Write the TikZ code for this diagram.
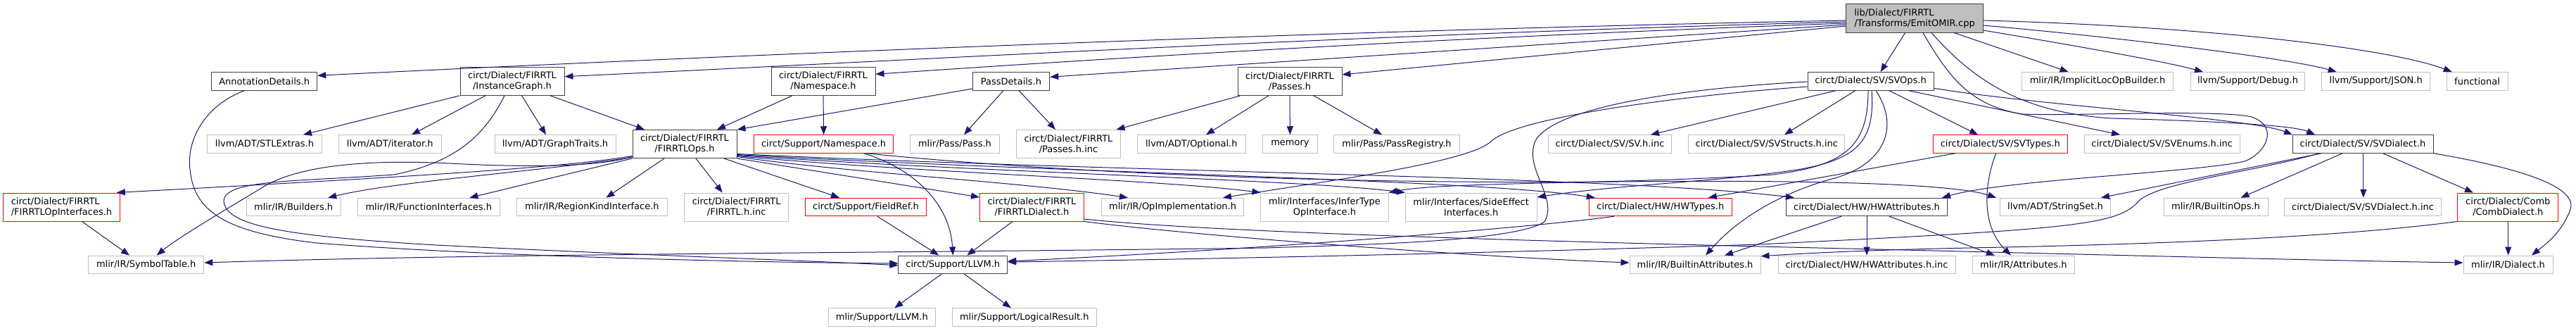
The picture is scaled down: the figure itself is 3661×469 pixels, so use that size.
\documentclass[tikz,border=0pt]{standalone}
\usepackage{fontspec}
\setmainfont{DejaVu Sans}
\usetikzlibrary{arrows.meta}
\definecolor{edgec}{HTML}{191970}
\definecolor{graybd}{HTML}{BFBFBF}
\definecolor{docbd}{HTML}{404040}
\definecolor{mainfill}{HTML}{BFBFBF}
\definecolor{truncbd}{HTML}{FF0000}
\tikzset{
  box/.style={draw, inner sep=0pt, minimum height=25.5pt, font=\fontsize{13}{15}\selectfont, align=center, line width=1pt, text=black},
  dbl/.style={minimum height=40pt},
  docn/.style={draw=docbd},
  undoc/.style={draw=graybd},
  trunc/.style={draw=truncbd},
  mainst/.style={draw=docbd, fill=mainfill},
  edg/.style={draw=edgec, line width=1pt, -{Triangle[length=12pt,width=9pt]}}
}
\begin{document}
\begin{tikzpicture}[x=1pt,y=-1pt]
\useasboundingbox (0,0) rectangle (3661,469);
\fill[white] (0,0) rectangle (3661,469);
% ---- nodes
\node[box,mainst,dbl,align=left,minimum width=194.5pt,minimum height=40.3pt] (main) at (2721,26) {lib/Dialect/FIRRTL\\/Transforms/EmitOMIR.cpp};
% row 1
\node[box,docn,minimum width=150pt] (annot) at (375.7,115.3) {AnnotationDetails.h};
\node[box,docn,dbl,minimum width=148pt] (instgraph) at (728,115.3) {circt/Dialect/FIRRTL\\/InstanceGraph.h};
\node[box,docn,dbl,minimum width=148pt] (nsfirrtl) at (1170,115.3) {circt/Dialect/FIRRTL\\/Namespace.h};
\node[box,docn,minimum width=109.5pt] (passdetails) at (1437,115.3) {PassDetails.h};
\node[box,docn,dbl,minimum width=148pt] (passes) at (1833,115.3) {circt/Dialect/FIRRTL\\/Passes.h};
\node[box,docn,minimum width=179pt] (svops) at (2658.6,115.3) {circt/Dialect/SV/SVOps.h};
\node[box,undoc,minimum width=214.5pt] (implicit) at (2981,115.3) {mlir/IR/ImplicitLocOpBuilder.h};
\node[box,undoc,minimum width=162.5pt] (debug) at (3194.5,115.3) {llvm/Support/Debug.h};
\node[box,undoc,minimum width=154pt] (json) at (3376.7,115.3) {llvm/Support/JSON.h};
\node[box,undoc,minimum width=87pt] (functional) at (3520.5,115.3) {functional};
% row 2
\node[box,undoc,minimum width=163pt] (stlextras) at (376,204.5) {llvm/ADT/STLExtras.h};
\node[box,undoc,minimum width=145.4pt] (iterator) at (554.3,204.5) {llvm/ADT/iterator.h};
\node[box,undoc,minimum width=172pt] (graphtraits) at (789,204.5) {llvm/ADT/GraphTraits.h};
\node[box,docn,dbl,minimum width=148pt] (firrtlops) at (973,204.5) {circt/Dialect/FIRRTL\\/FIRRTLOps.h};
\node[box,trunc,minimum width=198pt] (supns) at (1170.6,204.5) {circt/Support/Namespace.h};
\node[box,undoc,minimum width=126.5pt] (pass) at (1357,204.5) {mlir/Pass/Pass.h};
\node[box,undoc,dbl,minimum width=147.4pt] (passesinc) at (1518.5,204.5) {circt/Dialect/FIRRTL\\/Passes.h.inc};
\node[box,undoc,minimum width=153.8pt] (optional) at (1693.3,204.5) {llvm/ADT/Optional.h};
\node[box,undoc,minimum width=78pt] (memory) at (1833.4,204.5) {memory};
\node[box,undoc,minimum width=178.7pt] (passreg) at (1985,204.5) {mlir/Pass/PassRegistry.h};
\node[box,undoc,minimum width=174.7pt] (svhinc) at (2288,204.5) {circt/Dialect/SV/SV.h.inc};
\node[box,undoc,minimum width=222pt] (svstructs) at (2510.8,204.5) {circt/Dialect/SV/SVStructs.h.inc};
\node[box,trunc,minimum width=191pt] (svtypes) at (2842.7,204.5) {circt/Dialect/SV/SVTypes.h};
\node[box,undoc,minimum width=220.8pt] (svenums) at (3072.7,204.5) {circt/Dialect/SV/SVEnums.h.inc};
\node[box,docn,minimum width=200pt] (svdialect) at (3358,204.5) {circt/Dialect/SV/SVDialect.h};
% row 3
\node[box,trunc,dbl,align=left,minimum width=165.7pt] (opinterfaces) at (87.5,294) {circt/Dialect/FIRRTL\\/FIRRTLOpInterfaces.h};
\node[box,undoc,minimum width=134.4pt] (builders) at (417.2,294) {mlir/IR/Builders.h};
\node[box,undoc,minimum width=201.5pt] (funcif) at (609.3,294) {mlir/IR/FunctionInterfaces.h};
\node[box,undoc,minimum width=213.2pt] (regionkind) at (841.4,294) {mlir/IR/RegionKindInterface.h};
\node[box,undoc,dbl,minimum width=148.3pt] (firrtlinc) at (1046.7,294) {circt/Dialect/FIRRTL\\/FIRRTL.h.inc};
\node[box,trunc,minimum width=172pt] (fieldref) at (1230.5,294) {circt/Support/FieldRef.h};
\node[box,trunc,dbl,minimum width=148pt] (firrtldialect) at (1466.5,294) {circt/Dialect/FIRRTL\\/FIRRTLDialect.h};
\node[box,undoc,minimum width=202.4pt] (opimpl) at (1666.6,294) {mlir/IR/OpImplementation.h};
\node[box,undoc,dbl,minimum width=181.3pt] (infertype) at (1882.5,294) {mlir/Interfaces/InferType\\OpInterface.h};
\node[box,undoc,dbl,minimum width=186.7pt] (sideeffect) at (2090.7,294) {mlir/Interfaces/SideEffect\\Interfaces.h};
\node[box,trunc,minimum width=203pt] (hwtypes) at (2359.8,294) {circt/Dialect/HW/HWTypes.h};
\node[box,docn,minimum width=229.3pt] (hwattrs) at (2653,294) {circt/Dialect/HW/HWAttributes.h};
\node[box,undoc,minimum width=157.3pt] (stringset) at (2921,294) {llvm/ADT/StringSet.h};
\node[box,undoc,minimum width=148pt] (builtinops) at (3149,294) {mlir/IR/BuiltinOps.h};
\node[box,undoc,minimum width=222.6pt] (svdialectinc) at (3358,294) {circt/Dialect/SV/SVDialect.h.inc};
\node[box,trunc,dbl,minimum width=143.2pt] (combdialect) at (3564.3,294) {circt/Dialect/Comb\\/CombDialect.h};
% row 4
\node[box,undoc,minimum width=164pt] (symboltable) at (207.7,375.8) {mlir/IR/SymbolTable.h};
\node[box,docn,minimum width=154.7pt] (supllvm) at (1354.3,375.8) {circt/Support/LLVM.h};
\node[box,undoc,minimum width=186pt] (builtinattrs) at (2409,375.8) {mlir/IR/BuiltinAttributes.h};
\node[box,undoc,minimum width=252pt] (hwattrsinc) at (2653,375.8) {circt/Dialect/HW/HWAttributes.h.inc};
\node[box,undoc,minimum width=145pt] (attributes) at (2875.8,375.8) {mlir/IR/Attributes.h};
\node[box,undoc,minimum width=127pt] (dialect) at (3564.5,375.8) {mlir/IR/Dialect.h};
% row 5
\node[box,undoc,minimum width=152pt] (mlirllvm) at (1253.3,450.5) {mlir/Support/LLVM.h};
\node[box,undoc,minimum width=204.8pt] (logicalresult) at (1455.8,450.5) {mlir/Support/LogicalResult.h};
% ---- edges from main
\draw[edg] ([yshift=-3pt]main.west) .. controls (1800,45) and (900,85) .. ([yshift=8pt]annot.east);
\draw[edg] ([yshift=-5pt]main.west) .. controls (1900,50) and (1250,88) .. ([yshift=6.6pt]instgraph.east);
\draw[edg] ([yshift=-7pt]main.west) .. controls (2000,55) and (1500,88) .. ([yshift=10pt]nsfirrtl.east);
\draw[edg] ([yshift=-9pt]main.west) -- ([yshift=6pt]passdetails.east);
\draw[edg] ([yshift=-11pt]main.west) -- ([yshift=9.3pt]passes.east);
\draw[edg] ([xshift=-13.5pt]main.south) -- ([xshift=14pt]svops.north);
\draw[edg] ([xshift=56.5pt]main.south) -- ([xshift=-41.5pt]implicit.north);
\draw[edg] ([yshift=-17pt]main.east) .. controls (2950,65) and (3080,88) .. ([xshift=-63.5pt]debug.north);
\draw[edg] ([yshift=-10pt]main.east) .. controls (3000,52) and (3250,82) .. ([xshift=-56pt]json.north);
\draw[edg] ([yshift=-3pt]main.east) .. controls (3150,38) and (3400,70) .. ([xshift=-35.8pt]functional.north);
\draw[edg] ([xshift=24pt]main.south) .. controls (2810,120) and (2880,160) .. (3000,168) .. controls (3150,172) and (3260,178) .. ([xshift=-68pt]svdialect.north);
\draw[edg] ([xshift=12pt]main.south) .. controls (2770,110) and (2800,150) .. (2874,162) .. controls (2950,165) and (3150,155) .. (3200,166) .. controls (3240,180) and (3220,218) .. (3190,229) .. controls (3120,245) and (2850,255) .. ([xshift=107pt]hwattrs.north);
% ---- SVOps
\draw[edg] ([yshift=-10pt]svops.east) .. controls (2900,150) and (3200,168) .. ([xshift=-100pt]svdialect.north);
\draw[edg] ([xshift=-49pt]svops.south) -- ([xshift=58pt]svhinc.north);
\draw[edg] ([xshift=-21.6pt]svops.south) -- ([xshift=25.2pt]svstructs.north);
\draw[edg] ([xshift=26pt]svops.south) -- ([xshift=-31.7pt]svtypes.north);
\draw[edg] ([xshift=53.4pt]svops.south) -- ([xshift=-59.7pt]svenums.north);
\draw[edg] ([yshift=-0.7pt]svops.west) .. controls (2400,125) and (2210,150) .. (2182,200) .. controls (2165,240) and (2215,280) .. (2195,315) .. controls (2150,345) and (1900,348) .. (1800,352) .. controls (1200,360) and (700,360) .. ([yshift=2.8pt]symboltable.east);
\draw[edg] ([yshift=-7.7pt]svops.west) .. controls (2400,135) and (2160,165) .. (2120,200) .. controls (2090,230) and (1900,255) .. ([xshift=71.4pt]opimpl.north);
\draw[edg] ([xshift=1.4pt]svops.south) .. controls (2665,200) and (2640,225) .. (2560,240) .. controls (2450,258) and (2300,262) .. ([yshift=14pt]sideeffect.east);
\draw[edg] ([xshift=-3.6pt]svops.south) .. controls (2655,210) and (2620,235) .. (2520,248) .. controls (2300,262) and (2050,258) .. (infertype.north east);
\draw[edg] ([xshift=7.4pt]svops.south) .. controls (2700,180) and (2680,235) .. (2600,255) .. controls (2530,275) and (2470,310) .. ([xshift=15pt]builtinattrs.north);
% ---- SVTypes
\draw[edg] ([xshift=-63.7pt]svtypes.south) -- ([xshift=68pt]hwtypes.north);
\draw[edg] ([xshift=-6pt]svtypes.south) .. controls (2820,260) and (2815,320) .. ([xshift=-18pt]attributes.north);
% ---- SVDialect
\draw[edg] ([xshift=-29pt]svdialect.south) -- ([xshift=35.5pt]builtinops.north);
\draw[edg] ([xshift=0.8pt]svdialect.south) -- ([xshift=0.8pt]svdialectinc.north);
\draw[edg] ([xshift=28.5pt]svdialect.south) -- ([xshift=-49.3pt]combdialect.north);
\draw[edg] (svdialect.south east) .. controls (3560,235) and (3670,262) .. (3652,300) .. controls (3640,330) and (3620,345) .. ([xshift=33.5pt]dialect.north);
\draw[edg] ([xshift=-59pt]svdialect.south) -- ([xshift=65pt]stringset.north);
\draw[edg] ([xshift=-62pt]svdialect.south) .. controls (3200,245) and (3070,258) .. (3040,285) .. controls (3010,320) and (2950,325) .. (2500,347) .. controls (2100,360) and (1700,368) .. ([yshift=3.8pt]supllvm.east);
% ---- Comb
\draw[edg] ([xshift=0.4pt]combdialect.south) -- ([xshift=0.2pt]dialect.north);
\draw[edg] (combdialect.south west) .. controls (3300,340) and (3000,348) .. (2800,352) .. controls (2650,355) and (2560,360) .. ([yshift=12pt]builtinattrs.east);
% ---- HW
\draw[edg] ([xshift=-36pt]hwattrs.south) -- ([xshift=42pt]builtinattrs.north);
\draw[edg] (hwattrs.south) -- (hwattrsinc.north);
\draw[edg] ([xshift=32pt]hwattrs.south) -- ([xshift=-41pt]attributes.north);
\draw[edg] ([xshift=-66pt]hwtypes.south) .. controls (2200,320) and (1950,340) .. (1800,350) .. controls (1650,360) and (1500,368) .. ([yshift=5pt]supllvm.east);
% ---- FIRRTLDialect, FieldRef, Namespace
\draw[edg] (firrtldialect.south east) .. controls (1700,335) and (2100,365) .. ([yshift=2.8pt]builtinattrs.west);
\draw[edg] ([yshift=-17pt]firrtldialect.east) .. controls (1700,328) and (2100,340) .. (2500,350) .. controls (3000,362) and (3300,370) .. ([yshift=2.8pt]dialect.west);
\draw[edg] ([xshift=-27.5pt]firrtldialect.south) -- ([xshift=20pt]supllvm.north);
\draw[edg] ([xshift=16.5pt]fieldref.south) -- ([xshift=-20pt]supllvm.north);
\draw[edg] ([xshift=57pt]supns.south) .. controls (1300,240) and (1350,290) .. (supllvm.north);
\draw[edg] ([xshift=61pt]supns.south) .. controls (1500,245) and (1900,262) .. (2300,258) .. controls (2600,255) and (2780,262) .. ([xshift=-84pt]stringset.north);
\draw[edg] ([xshift=-16pt]supllvm.south) -- ([xshift=18pt]mlirllvm.north);
\draw[edg] ([xshift=16pt]supllvm.south) -- ([xshift=-19pt]logicalresult.north);
% ---- AnnotationDetails, InstanceGraph
\draw[edg] ([xshift=-28pt]annot.south) .. controls (290,150) and (265,200) .. (270,240) .. controls (275,300) and (320,330) .. (450,345) .. controls (700,365) and (1100,373) .. ([yshift=1.8pt]supllvm.west);
\draw[edg] ([xshift=-11pt]instgraph.south) .. controls (690,190) and (650,230) .. (560,248) .. controls (420,258) and (320,255) .. (318,285) .. controls (320,320) and (400,335) .. (620,348) .. controls (900,362) and (1150,370) .. ([yshift=-1pt]supllvm.west);
\draw[edg] (instgraph.south west) -- ([xshift=55pt]stlextras.north);
\draw[edg] ([xshift=-38pt]instgraph.south) -- ([xshift=30.7pt]iterator.north);
\draw[edg] ([xshift=13.5pt]instgraph.south) -- ([xshift=-13pt]graphtraits.north);
\draw[edg] ([xshift=54pt]instgraph.south) -- ([xshift=-57pt]firrtlops.north);
\draw[edg] ([xshift=-44pt]nsfirrtl.south) -- ([xshift=46pt]firrtlops.north);
\draw[edg] (nsfirrtl.south) -- (supns.north);
% ---- PassDetails, Passes
\draw[edg] ([yshift=-10.7pt]passdetails.west) -- (firrtlops.north east);
\draw[edg] ([xshift=-11pt]passdetails.south) -- ([xshift=13pt]pass.north);
\draw[edg] ([xshift=11pt]passdetails.south) -- ([xshift=-18.5pt]passesinc.north);
\draw[edg] ([xshift=-70pt]passes.south) -- ([xshift=68pt]passesinc.north);
\draw[edg] ([xshift=-30pt]passes.south) -- ([xshift=20.7pt]optional.north);
\draw[edg] (passes.south) -- (memory.north);
\draw[edg] ([xshift=34pt]passes.south) -- ([xshift=-21pt]passreg.north);
% ---- FIRRTLOps
\draw[edg] ([yshift=-17pt]firrtlops.west) .. controls (800,238) and (600,250) .. ([xshift=-5pt]opinterfaces.north east);
\draw[edg] ([yshift=-19pt]firrtlops.west) .. controls (750,245) and (560,258) .. ([xshift=49pt]builders.north);
\draw[edg] (firrtlops.south west) -- ([xshift=58pt]funcif.north);
\draw[edg] ([yshift=-18pt]firrtlops.west) .. controls (850,237) and (750,238) .. (640,232) .. controls (520,226) and (420,235) .. (370,268) .. controls (300,310) and (250,340) .. ([xshift=15pt]symboltable.north);
\draw[edg] ([xshift=-29pt]firrtlops.south) -- ([xshift=20pt]regionkind.north);
\draw[edg] ([xshift=16pt]firrtlops.south) -- ([xshift=-20pt]firrtlinc.north);
\draw[edg] ([xshift=56pt]firrtlops.south) -- ([xshift=-37.5pt]fieldref.north);
\draw[edg] (firrtlops.south east) -- ([yshift=14pt]firrtldialect.west);
\draw[edg] ([yshift=-18pt]firrtlops.east) .. controls (1200,245) and (1450,258) .. ([xshift=-63.6pt]opimpl.north);
\draw[edg] ([yshift=-17pt]firrtlops.east) .. controls (1300,245) and (1650,255) .. (infertype.north west);
\draw[edg] ([yshift=-16pt]firrtlops.east) .. controls (1400,245) and (1850,255) .. (sideeffect.north west);
\draw[edg] ([yshift=-15pt]firrtlops.east) .. controls (1500,245) and (2100,255) .. ([xshift=9pt]hwtypes.north west);
\draw[edg] ([yshift=-14pt]firrtlops.east) .. controls (1600,245) and (2300,250) .. ([xshift=12pt]hwattrs.north west);
\draw[edg] ([xshift=29pt]opinterfaces.south) -- ([xshift=-23.7pt]symboltable.north);
\end{tikzpicture}
\end{document}
